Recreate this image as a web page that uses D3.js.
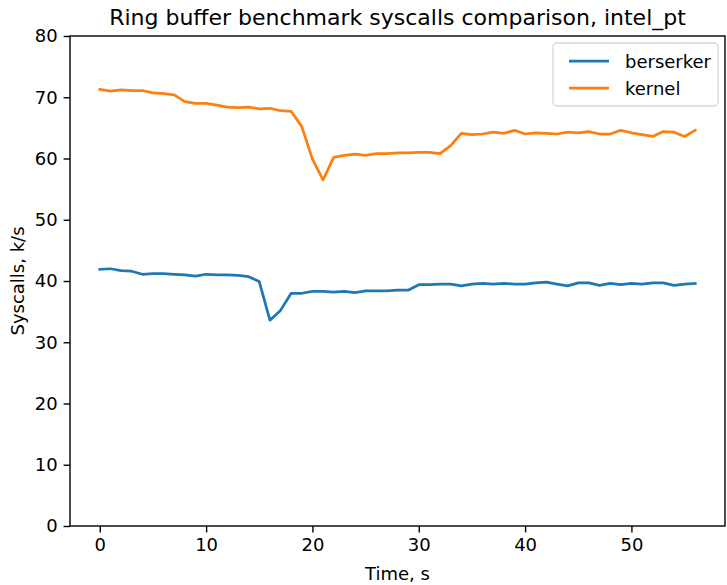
<!DOCTYPE html>
<html><head><meta charset="utf-8">
<script src="https://cdn.jsdelivr.net/npm/d3@7"></script>
<style>body{margin:0;background:#fff}svg{display:block}text{font-family:"DejaVu Sans",sans-serif;fill:#000}</style>
</head><body>
<script>
const time = d3.range(0, 57);
const berserker = [41.9,42.0,41.7,41.6,41.1,41.2,41.2,41.1,41.0,40.8,41.1,41.0,41.0,40.9,40.7,39.9,33.6,35.2,38.0,38.0,38.3,38.3,38.2,38.3,38.1,38.4,38.4,38.4,38.5,38.5,39.4,39.4,39.5,39.5,39.2,39.5,39.6,39.5,39.6,39.5,39.5,39.7,39.8,39.5,39.2,39.7,39.7,39.3,39.6,39.4,39.6,39.5,39.7,39.7,39.3,39.5,39.6];
const kernel = [71.3,71.0,71.2,71.1,71.1,70.7,70.6,70.4,69.3,69.0,69.0,68.7,68.4,68.3,68.4,68.1,68.2,67.8,67.7,65.2,59.9,56.5,60.2,60.5,60.7,60.5,60.8,60.8,60.9,60.9,61.0,61.0,60.8,62.1,64.1,63.9,64.0,64.3,64.1,64.6,64.0,64.2,64.1,64.0,64.3,64.2,64.4,64.0,64.0,64.6,64.2,63.9,63.6,64.4,64.3,63.6,64.6];
const xTicks = [0,10,20,30,40,50];
const yTicks = [0,10,20,30,40,50,60,70,80];
const seriesNames = ["berserker","kernel"];
const colors = ["#1f77b4","#ff7f0e"];

const W = 727, H = 585;
const m = {left: 70, right: 2, top: 36, bottom: 59};
const svg = d3.select("body").append("svg").attr("width", W).attr("height", H);
const x = d3.scaleLinear().domain([-2.8, 58.8]).range([m.left, W - m.right]);
const y = d3.scaleLinear().domain([0, 80]).range([H - m.bottom, m.top]);

const tickLen = 6.4, sw = 1.4;
const xAxis = svg.append("g").attr("transform", `translate(0,${H - m.bottom})`)
  .call(d3.axisBottom(x).tickValues(xTicks).tickSize(tickLen).tickPadding(6).tickFormat(d3.format("d")));
const yAxis = svg.append("g").attr("transform", `translate(${m.left},0)`)
  .call(d3.axisLeft(y).tickValues(yTicks).tickSize(tickLen).tickPadding(6).tickFormat(d3.format("d")));
[xAxis, yAxis].forEach(g => {
  g.select(".domain").remove();
  g.selectAll(".tick line").attr("stroke", "#000").attr("stroke-width", sw);
  g.selectAll(".tick text").attr("font-size", 18).attr("font-family", "DejaVu Sans").attr("fill", "#000");
});

// spines
svg.append("rect").attr("x", x.range()[0]).attr("y", y.range()[1])
  .attr("width", x.range()[1] - x.range()[0]).attr("height", y.range()[0] - y.range()[1])
  .attr("fill", "none").attr("stroke", "#000").attr("stroke-width", sw);

const line = d3.line().x((d, i) => x(time[i])).y(d => y(d));
[berserker, kernel].forEach((s, k) => {
  svg.append("path").datum(s).attr("d", line).attr("fill", "none")
    .attr("stroke", colors[k]).attr("stroke-width", 2.75).attr("stroke-linejoin", "round").attr("stroke-linecap", "square");
});

svg.append("text").attr("x", (x.range()[0] + x.range()[1]) / 2).attr("y", 25)
  .attr("text-anchor", "middle").attr("font-size", 22).text("Ring buffer benchmark syscalls comparison, intel_pt");
svg.append("text").attr("x", (x.range()[0] + x.range()[1]) / 2).attr("y", 580)
  .attr("text-anchor", "middle").attr("font-size", 18).text("Time, s");
svg.append("text").attr("transform", `translate(24,${(y.range()[0] + y.range()[1]) / 2}) rotate(-90)`)
  .attr("text-anchor", "middle").attr("font-size", 18).text("Syscalls, k/s");

// legend
const lg = svg.append("g");
lg.append("rect").attr("x", 553).attr("y", 43).attr("width", 165).attr("height", 63).attr("rx", 4)
  .attr("fill", "#fff").attr("fill-opacity", 0.8).attr("stroke", "#d6d6d6").attr("stroke-width", 1.3);
seriesNames.forEach((n, k) => {
  const cy = 61 + k * 27;
  lg.append("line").attr("x1", 569).attr("x2", 609).attr("y1", cy).attr("y2", cy)
    .attr("stroke", colors[k]).attr("stroke-width", 2.75);
  lg.append("text").attr("x", 625).attr("y", cy + 6.5).attr("font-size", 18).text(n);
});
</script>
</body></html>
